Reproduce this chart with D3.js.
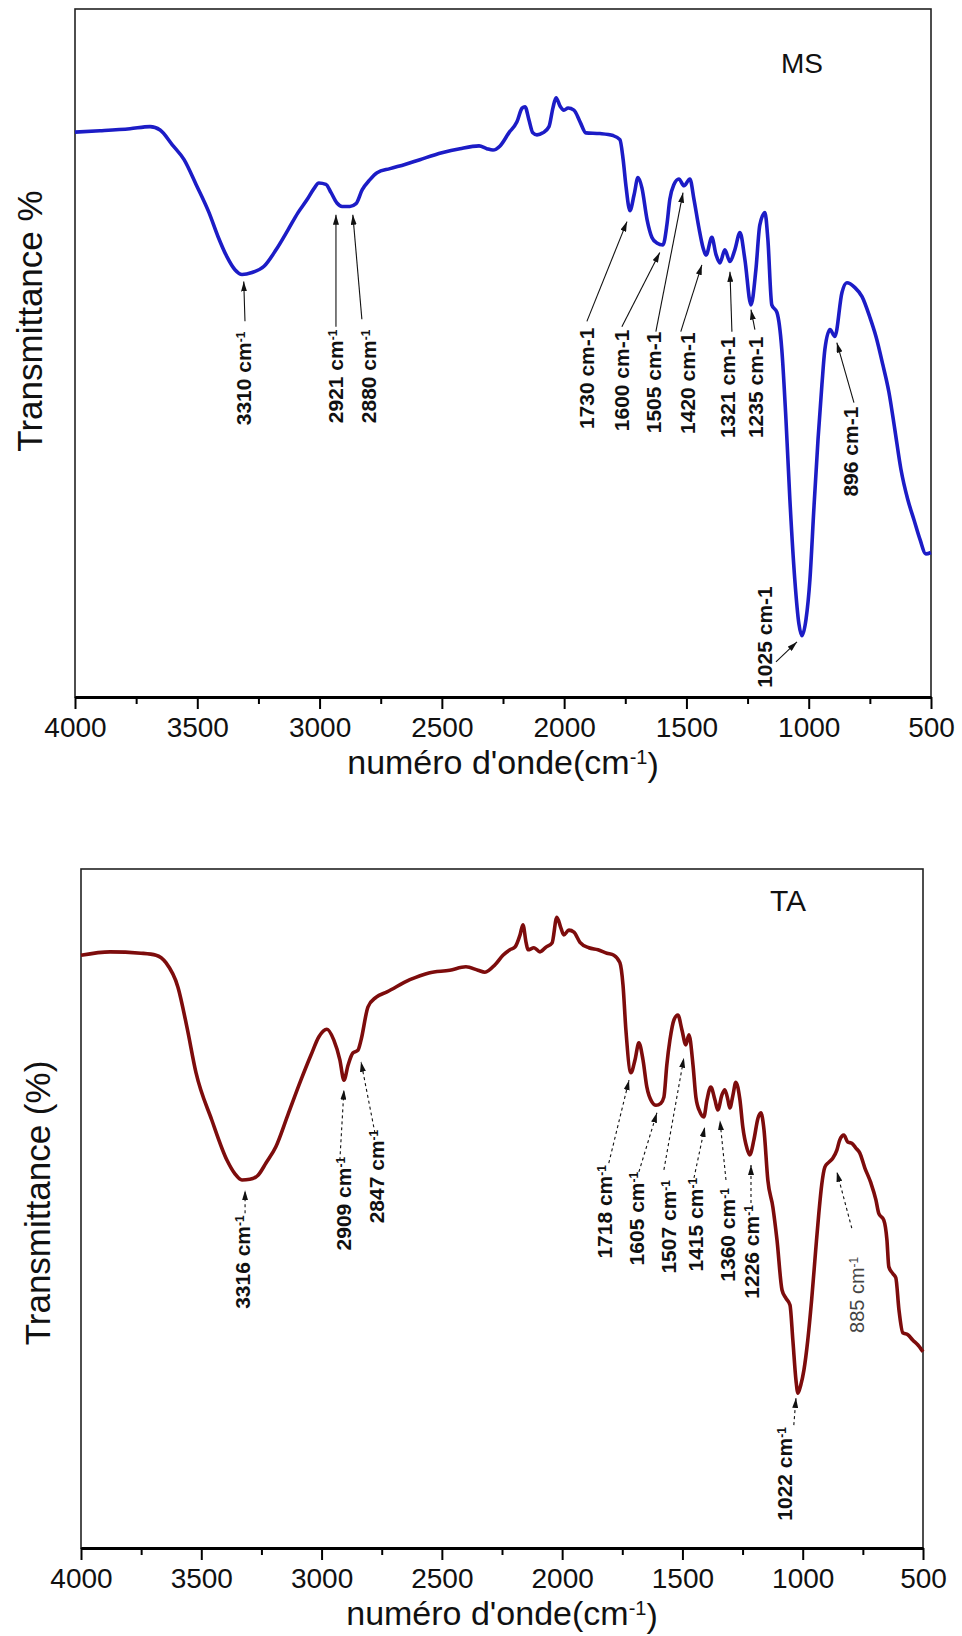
<!DOCTYPE html>
<html>
<head>
<meta charset="utf-8">
<script src="https://d3js.org/d3.v7.min.js"></script>
<style>
  body { margin: 0; background: #fff; }
  text { font-family: "Liberation Sans", Arial, sans-serif; }
</style>
</head>
<body>
<div id="chart"></div>
<script>

// spectrum MS : [wavenumber cm-1, transmittance (arb. %)]
const msSpectrum = [
  [4000,82.1],[3898,82.3],[3775,82.6],[3693,82.9],[3652,82.4],[3603,80.3],[3554,78.1],[3505,74.5],
  [3452,70.4],[3415,66.9],[3379,64.0],[3346,62.1],[3317,61.4],[3276,61.7],[3227,62.6],[3178,65.0],
  [3129,67.9],[3088,70.4],[3051,72.3],[3023,73.9],[3003,74.7],[2974,74.5],[2953,73.3],[2929,71.8],
  [2908,71.3],[2876,71.3],[2851,71.7],[2826,73.7],[2794,75.2],[2765,76.2],[2712,76.8],[2651,77.4],
  [2590,78.1],[2500,79.1],[2426,79.7],[2348,80.1],[2316,79.7],[2291,79.5],[2262,80.1],[2226,82.0],
  [2193,83.6],[2172,85.6],[2160,85.8],[2144,83.9],[2128,82.0],[2111,81.7],[2087,82.0],[2062,82.9],
  [2046,85.6],[2033,87.1],[2017,85.9],[2001,85.3],[1984,85.6],[1960,85.3],[1935,83.6],[1911,82.0],
  [1854,81.9],[1800,81.6],[1772,81.0],[1759,78.2],[1747,74.2],[1731,70.7],[1714,73.0],[1698,75.5],
  [1682,74.0],[1661,69.4],[1641,66.8],[1621,66.0],[1596,65.7],[1580,68.6],[1568,72.3],[1551,74.5],
  [1531,75.3],[1510,74.3],[1486,75.3],[1469,72.3],[1449,68.2],[1432,65.3],[1420,64.2],[1396,66.8],
  [1379,64.3],[1363,63.1],[1343,65.0],[1322,63.3],[1302,65.0],[1281,67.5],[1261,63.6],[1236,57.0],
  [1216,62.1],[1200,68.6],[1179,70.4],[1167,66.5],[1151,57.0],[1130,55.9],[1110,50.5],[1093,40.3],
  [1077,28.7],[1057,17.1],[1040,10.6],[1028,8.9],[1011,11.3],[995,17.1],[979,27.3],[962,37.4],
  [946,45.4],[934,50.5],[913,53.4],[893,52.4],[864,58.8],[844,60.2],[811,59.5],[782,58.2],
  [750,55.2],[725,52.4],[697,48.3],[672,44.3],[648,38.9],[623,33.1],[595,28.7],[570,25.8],
  [545,22.9],[521,20.8],[500,21.0]
];

// spectrum TA
const taSpectrum = [
  [4000,87.3],[3879,87.8],[3751,87.6],[3688,87.3],[3647,86.2],[3597,82.6],[3559,76.6],[3522,70.0],
  [3456,63.0],[3393,57.1],[3360,55.1],[3331,54.2],[3298,54.3],[3264,54.9],[3231,56.7],[3190,59.1],
  [3140,63.8],[3086,68.9],[3044,72.6],[3011,75.3],[2978,76.4],[2949,74.8],[2924,71.9],[2907,68.9],
  [2890,71.1],[2870,72.9],[2849,73.3],[2836,74.8],[2807,79.7],[2774,81.1],[2728,81.9],[2633,83.7],
  [2554,84.7],[2467,85.1],[2400,85.6],[2350,85.1],[2321,84.8],[2279,85.9],[2246,87.3],[2217,88.1],
  [2196,88.5],[2175,90.3],[2163,91.8],[2150,89.2],[2142,88.1],[2117,88.4],[2092,87.8],[2067,88.5],
  [2042,89.1],[2022,92.9],[2005,91.3],[1993,90.3],[1972,91.0],[1951,90.7],[1926,89.2],[1889,88.4],
  [1851,88.1],[1814,87.6],[1785,87.3],[1760,86.2],[1747,82.9],[1735,76.3],[1714,70.0],[1697,71.9],
  [1681,74.4],[1664,71.9],[1648,67.9],[1627,65.7],[1610,65.2],[1590,65.5],[1577,66.4],[1565,71.1],
  [1552,74.8],[1535,77.8],[1519,78.5],[1502,76.3],[1486,74.1],[1473,75.6],[1456,71.1],[1444,66.4],
  [1427,64.2],[1411,63.5],[1398,66.0],[1382,67.9],[1365,66.0],[1353,64.5],[1336,66.7],[1324,67.5],
  [1311,66.0],[1303,64.8],[1290,66.7],[1278,68.6],[1261,66.0],[1249,62.0],[1232,58.9],[1220,57.9],
  [1203,60.1],[1186,63.3],[1174,64.1],[1161,61.6],[1145,54.2],[1124,50.2],[1107,45.4],[1086,38.0],
  [1070,36.8],[1053,35.8],[1041,30.6],[1028,24.7],[1020,22.8],[1008,24.0],[995,26.2],[979,30.6],
  [963,36.5],[946,43.9],[933,49.3],[921,53.5],[908,56.1],[892,56.8],[875,57.4],[858,58.6],
  [846,60.1],[829,60.8],[813,59.8],[796,59.6],[779,58.9],[763,58.2],[742,56.0],[717,53.8],
  [696,51.3],[684,49.3],[663,48.3],[650,45.4],[642,41.4],[625,40.4],[613,39.8],[600,35.1],
  [584,31.7],[563,31.4],[542,30.6],[521,29.9],[500,28.9]
];

const xTicks = [4000, 3500, 3000, 2500, 2000, 1500, 1000, 500];
const xMinorTicks = [3750, 3250, 2750, 2250, 1750, 1250, 750];

// peak labels: text, label end (top) point, arrow tail, arrow tip  (all in data units)
const msPeaks = [
  {label: "3310 cm", sup: "-1", at: [3313, 53.1], tail: [3305, 54.6], tip: [3310, 60.4]},
  {label: "2921 cm", sup: "-1", at: [2937, 53.4], tail: [2933, 53.8], tip: [2933, 70.1]},
  {label: "2880 cm", sup: "-1", at: [2802, 53.4], tail: [2827, 54.9], tip: [2864, 70.1]},
  {label: "1730 cm-1", at: [1907, 53.7], tail: [1907, 54.6], tip: [1743, 69.1]},
  {label: "1600 cm-1", at: [1764, 53.4], tail: [1764, 53.8], tip: [1609, 64.6]},
  {label: "1505 cm-1", at: [1633, 53.1], tail: [1625, 53.1], tip: [1514, 73.3]},
  {label: "1420 cm-1", at: [1494, 53.0], tail: [1523, 53.1], tip: [1437, 62.8]},
  {label: "1321 cm-1", at: [1331, 52.4], tail: [1314, 53.1], tip: [1322, 61.8]},
  {label: "1235 cm-1", at: [1216, 52.4], tail: [1220, 53.4], tip: [1236, 56.3]},
  {label: "896 cm-1", at: [828, 42.2], tail: [815, 42.8], tip: [885, 51.5]},
  {label: "1025 cm-1", at: [1183, 16.1], tail: [1134, 5.1], tip: [1048, 8.0]}
];

const taPeaks = [
  {label: "3316 cm", sup: "-1", at: [3327, 49.0], tail: [3318, 49.3], tip: [3318, 52.7]},
  {label: "2909 cm", sup: "-1", at: [2911, 57.6], tail: [2924, 57.1], tip: [2907, 67.5]},
  {label: "2847 cm", sup: "-1", at: [2770, 61.6], tail: [2778, 61.1], tip: [2836, 71.6]},
  {label: "1718 cm", sup: "-1", at: [1826, 56.4], tail: [1806, 56.7], tip: [1722, 68.9]},
  {label: "1605 cm", sup: "-1", at: [1693, 55.4], tail: [1681, 55.4], tip: [1606, 64.1]},
  {label: "1507 cm", sup: "-1", at: [1560, 54.2], tail: [1577, 55.7], tip: [1494, 72.2]},
  {label: "1415 cm", sup: "-1", at: [1444, 54.5], tail: [1452, 54.5], tip: [1407, 62.0]},
  {label: "1360 cm", sup: "-1", at: [1311, 53.0], tail: [1319, 54.2], tip: [1344, 63.0]},
  {label: "1226 cm", sup: "-1", at: [1215, 50.5], tail: [1215, 50.8], tip: [1215, 56.4]},
  {label: "885 cm", sup: "-1", at: [775, 42.9], tail: [796, 47.1], tip: [858, 55.4], light: true},
  {label: "1022 cm", sup: "-1", at: [1074, 17.8], tail: [1037, 18.1], tip: [1028, 22.1]}
];

const W = 962, H = 1636;

const svg = d3.select("#chart").append("svg")
  .attr("width", W)
  .attr("height", H);

const defs = svg.append("defs");
defs.append("marker")
  .attr("id", "arrow")
  .attr("viewBox", "0 0 10 6")
  .attr("refX", 10).attr("refY", 3)
  .attr("markerWidth", 10).attr("markerHeight", 6)
  .attr("markerUnits", "userSpaceOnUse")
  .attr("orient", "auto")
  .append("path")
  .attr("d", "M0,0 L10,3 L0,6 z")
  .attr("fill", "#111");

function drawPanel(p) {
  const g = svg.append("g");

  const x = d3.scaleLinear().domain([4000, 500]).range([p.left, p.right]);
  const y = d3.scaleLinear().domain([0, 100]).range([p.bottom, p.top]);

  // frame
  g.append("rect")
    .attr("x", p.left).attr("y", p.top)
    .attr("width", p.right - p.left).attr("height", p.bottom - p.top)
    .attr("fill", "none").attr("stroke", "#222").attr("stroke-width", 1.6);

  // minor ticks
  g.append("g")
    .attr("transform", "translate(0," + p.bottom + ")")
    .call(d3.axisBottom(x).tickValues(xMinorTicks).tickSize(7).tickSizeOuter(0).tickFormat(""))
    .call(a => a.select(".domain").remove())
    .selectAll("line").attr("stroke", "#000").attr("stroke-width", 2);

  // major axis
  const ax = g.append("g")
    .attr("transform", "translate(0," + p.bottom + ")")
    .call(d3.axisBottom(x).tickValues(xTicks).tickSize(12).tickSizeOuter(0).tickPadding(8).tickFormat(d3.format("d")));
  ax.select(".domain").attr("stroke", "#000").attr("stroke-width", 3);
  ax.selectAll("line").attr("stroke", "#000").attr("stroke-width", 2);
  ax.selectAll("text")
    .attr("fill", "#111")
    .style("font-family", "'Liberation Sans', Arial, sans-serif")
    .style("font-size", "28px");

  // spectrum
  const line = d3.line()
    .x(d => x(d[0]))
    .y(d => y(d[1]))
    .curve(d3.curveMonotoneX);

  g.append("path")
    .datum(p.data)
    .attr("d", line)
    .attr("fill", "none")
    .attr("stroke", p.color)
    .attr("stroke-width", 3.6)
    .attr("stroke-linejoin", "round");

  // arrows
  g.selectAll(".arr")
    .data(p.peaks)
    .enter()
    .append("line")
    .attr("x1", d => x(d.tail[0])).attr("y1", d => y(d.tail[1]))
    .attr("x2", d => x(d.tip[0])).attr("y2", d => y(d.tip[1]))
    .attr("stroke", "#111")
    .attr("stroke-width", 1.1)
    .attr("stroke-dasharray", p.dashed ? "3,3" : null)
    .attr("marker-end", "url(#arrow)");

  // peak labels, rotated
  const lab = g.selectAll(".lab")
    .data(p.peaks)
    .enter()
    .append("text")
    .attr("transform", d => "translate(" + x(d.at[0]) + "," + y(d.at[1]) + ") rotate(-90)")
    .attr("text-anchor", "end")
    .attr("dy", "0.36em")
    .style("font-size", d => d.light ? "20px" : "21px")
    .style("font-weight", d => d.light ? "normal" : "bold")
    .attr("fill", d => d.light ? "#444" : "#111");
  lab.append("tspan").text(d => d.label);
  lab.filter(d => d.sup).append("tspan")
    .attr("dy", "-0.5em")
    .style("font-size", "12px")
    .text(d => d.sup);

  // sample name
  g.append("text")
    .attr("x", p.nameX).attr("y", p.nameY)
    .attr("text-anchor", "middle")
    .style("font-size", p.nameSize + "px")
    .attr("fill", "#111")
    .text(p.name);

  // x title
  const xt = g.append("text")
    .attr("x", (p.left + p.right) / 2)
    .attr("y", p.bottom + 77)
    .attr("text-anchor", "middle")
    .style("font-size", "34px")
    .attr("fill", "#111");
  xt.append("tspan").text("numéro d'onde(cm");
  xt.append("tspan").attr("dy", "-0.5em").style("font-size", "20px").text("-1");
  xt.append("tspan").attr("dy", "0.35em").text(")");

  // y title
  g.append("text")
    .attr("transform", "translate(" + p.yTitleX + "," + p.yTitleY + ") rotate(-90)")
    .attr("text-anchor", "middle")
    .style("font-size", "35px")
    .attr("fill", "#111")
    .text(p.yTitle);
}

drawPanel({
  left: 75, right: 931, top: 9, bottom: 697,
  data: msSpectrum, peaks: msPeaks, color: "#1c1cc6", dashed: false,
  name: "MS", nameX: 802, nameY: 73, nameSize: 28,
  yTitle: "Transmittance %", yTitleX: 42, yTitleY: 321
});

drawPanel({
  left: 81, right: 923, top: 869, bottom: 1548,
  data: taSpectrum, peaks: taPeaks, color: "#7d0c0c", dashed: true,
  name: "TA", nameX: 788, nameY: 911, nameSize: 30,
  yTitle: "Transmittance (%)", yTitleX: 50, yTitleY: 1203
});

</script>
</body>
</html>
